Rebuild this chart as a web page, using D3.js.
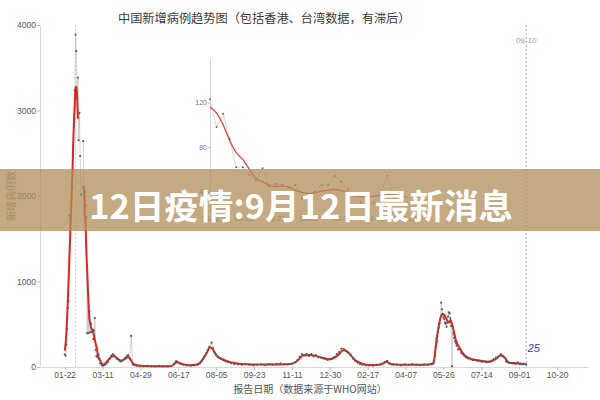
<!DOCTYPE html>
<html><head><meta charset="utf-8">
<script src="https://cdn.jsdelivr.net/npm/d3@7"></script>
<style>body{margin:0;background:#fff}svg{display:block}</style>
</head><body>
<svg id="c" width="600" height="400"></svg>
<script>
// ---------- data ----------
const titleText = "中国新增病例趋势图（包括香港、台湾数据，有滞后）";
const xTitle = "报告日期（数据来源于WHO网站）";
const yTitle = "新增病例数";
const bannerText = "12日疫情:9月12日最新消息";
const xTickDates = ["2020-01-22","2020-03-11","2020-04-29","2020-06-17","2020-08-05","2020-09-23","2020-11-11","2020-12-30","2021-02-17","2021-04-07","2021-05-26","2021-07-14","2021-09-01","2021-10-20"];
const yTicks = [0,1000,2000,3000,4000];
const markDate = "2021-09-10";
const markValue = 25;

const raw2020 = [["2020-01-22",149],["2020-01-23",131],["2020-01-24",259],["2020-01-25",444],["2020-01-26",688],["2020-01-27",769],["2020-01-28",1771],["2020-01-29",1459],["2020-01-30",1737],["2020-01-31",1982],["2020-02-01",2102],["2020-02-02",2590],["2020-02-03",2829],["2020-02-04",3235],["2020-02-05",3887],["2020-02-06",3694],["2020-02-07",3143],["2020-02-08",3385],["2020-02-09",2652],["2020-02-10",2973],["2020-02-11",2467],["2020-02-12",2015],["2020-02-13",null],["2020-02-15",2641],["2020-02-16",2008],["2020-02-17",2048],["2020-02-18",1886],["2020-02-19",1749],["2020-02-20",394],["2020-02-21",889],["2020-02-22",397],["2020-02-23",648],["2020-02-24",409],["2020-02-25",508],["2020-02-26",406],["2020-02-27",433],["2020-02-28",327],["2020-02-29",427],["2020-03-01",573],["2020-03-02",202],["2020-03-03",125],["2020-03-04",119],["2020-03-05",139],["2020-03-06",143],["2020-03-07",99],["2020-03-08",44],["2020-03-09",40],["2020-03-10",19],["2020-03-11",24],["2020-03-12",15],["2020-03-14",25],["2020-03-16",38],["2020-03-18",60],["2020-03-20",95],["2020-03-22",130],["2020-03-24",150],["2020-03-26",135],["2020-03-28",120],["2020-03-30",95],["2020-04-01",80],["2020-04-03",65],["2020-04-05",70],["2020-04-07",85],["2020-04-09",105],["2020-04-11",125],["2020-04-13",140],["2020-04-15",100],["2020-04-17",363],["2020-04-19",30],["2020-04-21",22],["2020-04-24",15],["2020-04-28",10],["2020-05-03",8],["2020-05-08",12],["2020-05-13",10],["2020-05-18",8],["2020-05-23",12],["2020-05-28",6],["2020-06-02",8],["2020-06-07",10],["2020-06-12",45],["2020-06-14",70],["2020-06-16",60],["2020-06-19",40],["2020-06-23",28],["2020-06-28",20],["2020-07-03",15],["2020-07-08",20],["2020-07-12",30],["2020-07-15",45],["2020-07-17",65],["2020-07-19",95],["2020-07-21",125],["2020-07-23",160],["2020-07-25",195],["2020-07-27",235],["2020-07-30",284],["2020-08-01",220],["2020-08-03",165],["2020-08-05",145],["2020-08-07",120],["2020-08-09",105],["2020-08-11",95],["2020-08-14",80],["2020-08-17",65],["2020-08-20",55],["2020-08-24",45],["2020-08-28",35],["2020-09-02",30],["2020-09-07",25],["2020-09-12",32],["2020-09-17",28],["2020-09-22",20],["2020-09-27",26],["2020-10-02",30],["2020-10-07",22],["2020-10-12",35],["2020-10-17",28],["2020-10-22",38],["2020-10-27",42],["2020-11-01",33],["2020-11-06",30],["2020-11-11",40],["2020-11-15",55],["2020-11-18",80],["2020-11-21",118],["2020-11-24",150],["2020-11-27",138],["2020-11-30",155],["2020-12-03",130],["2020-12-06",150],["2020-12-09",125],["2020-12-12",140],["2020-12-15",115],["2020-12-18",108],["2020-12-21",100],["2020-12-24",95],["2020-12-27",82],["2020-12-30",92]];

const raw2021 = [["2021-01-02",100],["2021-01-05",120],["2021-01-08",150],["2021-01-11",175],["2021-01-14",215],["2021-01-17",210],["2021-01-20",190],["2021-01-23",165],["2021-01-26",135],["2021-01-29",100],["2021-02-01",70],["2021-02-04",50],["2021-02-07",35],["2021-02-10",25],["2021-02-14",20],["2021-02-19",18],["2021-02-24",15],["2021-03-01",25],["2021-03-06",30],["2021-03-11",52],["2021-03-14",72],["2021-03-17",40],["2021-03-22",30],["2021-03-27",25],["2021-04-01",20],["2021-04-06",30],["2021-04-11",25],["2021-04-16",35],["2021-04-21",25],["2021-04-26",20],["2021-05-01",30],["2021-05-06",25],["2021-05-11",30],["2021-05-13",40],["2021-05-14",65],["2021-05-15",130],["2021-05-16",230],["2021-05-17",335],["2021-05-18",300],["2021-05-19",420],["2021-05-20",460],["2021-05-21",510],["2021-05-22",560],["2021-05-23",752],["2021-05-24",675],["2021-05-25",610],["2021-05-26",580],["2021-05-27",560],["2021-05-28",520],["2021-05-29",505],["2021-05-30",470],["2021-05-31",520],["2021-06-01",590],["2021-06-02",640],["2021-06-03",627],["2021-06-04",570],["2021-06-05",480],["2021-06-06",10],["2021-06-07",470],["2021-06-08",390],["2021-06-09",340],["2021-06-10",300],["2021-06-11",280],["2021-06-12",250],["2021-06-14",205],["2021-06-16",210],["2021-06-18",165],["2021-06-20",150],["2021-06-22",130],["2021-06-24",112],["2021-06-27",100],["2021-06-30",90],["2021-07-03",80],["2021-07-06",85],["2021-07-09",70],["2021-07-12",76],["2021-07-15",60],["2021-07-18",66],["2021-07-21",55],["2021-07-24",62],["2021-07-27",76],["2021-07-30",92],["2021-08-02",110],["2021-08-05",126],["2021-08-08",150],["2021-08-10",130],["2021-08-11",123],["2021-08-13",110],["2021-08-15",62],["2021-08-18",50],["2021-08-21",47],["2021-08-24",46],["2021-08-27",40],["2021-08-30",54],["2021-09-02",36],["2021-09-05",30],["2021-09-08",35],["2021-09-10",30]];

const smoothA = [["2020-01-22",190],["2020-01-23",260],["2020-01-24",380],["2020-01-25",560],["2020-01-26",789],["2020-01-27",1018],["2020-01-28",1264],["2020-01-29",1501],["2020-01-30",1773],["2020-01-31",2067],["2020-02-01",2276],["2020-02-02",2623],["2020-02-03",2903],["2020-02-04",3069],["2020-02-05",3261],["2020-02-06",3281],["2020-02-07",3172],["2020-02-08",2904]];

const smoothB = [["2020-02-15",2120],["2020-02-16",2066],["2020-02-17",1788],["2020-02-18",1659],["2020-02-19",1339],["2020-02-20",1144],["2020-02-21",910],["2020-02-22",713],["2020-02-23",560],["2020-02-24",510],["2020-02-25",460],["2020-02-26",445],["2020-02-27",430],["2020-02-28",405],["2020-02-29",356],["2020-03-01",315],["2020-03-02",273],["2020-03-03",240],["2020-03-04",195],["2020-03-05",130],["2020-03-06",101],["2020-03-07",86],["2020-03-08",73],["2020-03-09",55],["2020-03-10",40],["2020-03-11",28],["2020-03-13",30],["2020-03-16",60],["2020-03-20",100],["2020-03-25",128],["2020-03-30",100],["2020-04-04",74],["2020-04-09",95],["2020-04-13",120],["2020-04-16",90],["2020-04-19",43],["2020-04-24",20],["2020-05-05",12],["2020-05-25",10],["2020-06-08",12],["2020-06-15",55],["2020-06-22",35],["2020-07-01",20],["2020-07-10",25],["2020-07-15",50],["2020-07-20",110],["2020-07-24",170],["2020-07-28",230],["2020-08-01",200],["2020-08-05",140],["2020-08-10",105],["2020-08-15",85],["2020-08-22",60],["2020-08-30",45],["2020-09-13",32],["2020-10-10",28],["2020-11-05",32],["2020-11-13",42],["2020-11-19",82],["2020-11-25",135],["2020-12-04",140],["2020-12-12",130],["2020-12-20",110],["2020-12-30",90],["2021-01-05",110],["2021-01-10",140],["2021-01-17",200],["2021-01-24",160],["2021-01-31",85],["2021-02-09",43],["2021-02-20",22],["2021-03-06",30],["2021-03-13",60],["2021-03-20",32],["2021-04-10",25],["2021-05-01",25],["2021-05-12",40],["2021-05-14",90],["2021-05-16",238],["2021-05-19",433],["2021-05-22",570],["2021-05-25",627],["2021-05-28",595],["2021-05-31",540],["2021-06-02",520],["2021-06-04",550],["2021-06-07",471],["2021-06-11",316],["2021-06-16",219],["2021-06-22",140],["2021-06-29",101],["2021-07-12",74],["2021-07-25",62],["2021-08-03",101],["2021-08-09",140],["2021-08-14",101],["2021-08-19",50],["2021-09-01",40],["2021-09-09",35]];

// inset (zoom on 08-11 .. 09-10)
const insetDates = ["2021-08-11","2021-08-12","2021-08-13","2021-08-14","2021-08-15","2021-08-16","2021-08-17","2021-08-18","2021-08-19","2021-08-20","2021-08-21","2021-08-22","2021-08-23","2021-08-24","2021-08-25","2021-08-26","2021-08-27","2021-08-28","2021-08-29","2021-08-30","2021-08-31","2021-09-01","2021-09-02","2021-09-03","2021-09-04","2021-09-05","2021-09-06","2021-09-07","2021-09-08","2021-09-09","2021-09-10"];
const insetRaw = [123,98,110,87,62,62,55,50,61,45,47,46,44,46,34,33,40,46,46,54,49,42,36,31,28,30,38,54,35,33,30];
const insetSmooth = [116,110.5,100,86,75,69,60,52,49,46,44.7,45,44,41.5,39.5,38.5,39,40.5,41.5,42,41,39,36.5,35.5,35.5,36,37,37.5,37,36,35];
const insetXTicks = ["2021-08-11","2021-08-16","2021-08-21","2021-08-26","2021-08-31","2021-09-05","2021-09-10"];
const insetYTicks = [40,80,120];

// ---------- drawing ----------
const parse = d3.timeParse("%Y-%m-%d");
const svg = d3.select("#c");
const latin = "'Liberation Sans', Arial, sans-serif";
const cjk = "'Noto Sans CJK SC', sans-serif";

const x = d3.scaleTime().domain([parse("2019-12-21"), parse("2021-11-29")]).range([40, 588]);
const y = d3.scaleLinear().domain([0, 4000]).range([367, 25]);

// title
svg.append("text").attr("x", 118).attr("y", 22.5).attr("fill", "#3a3a3a")
  .style("font-family", cjk).style("font-size", "12.2px").text(titleText);

// axes
const gx = svg.append("g").attr("transform", "translate(0,367)")
  .call(d3.axisBottom(x).tickValues(xTickDates.map(parse)).tickFormat(d3.timeFormat("%m-%d")).tickSize(3).tickSizeOuter(0).tickPadding(2));
gx.select(".domain").attr("stroke", "#d8d8d8");
gx.selectAll(".tick line").attr("stroke", "#bbb");
gx.selectAll(".tick text").attr("fill", "#555").style("font-family", latin).style("font-size", "8.5px");

const gy = svg.append("g").attr("transform", "translate(40,0)")
  .call(d3.axisLeft(y).tickValues(yTicks).tickFormat(d3.format("d")).tickSize(3).tickSizeOuter(0).tickPadding(1));
gy.select(".domain").attr("stroke", "#d8d8d8");
gy.selectAll(".tick line").attr("stroke", "#bbb");
gy.selectAll(".tick text").attr("fill", "#555").style("font-family", latin).style("font-size", "8.5px");

svg.append("text").attr("x", 310).attr("y", 393).attr("text-anchor", "middle").attr("fill", "#555")
  .style("font-family", cjk).style("font-size", "10px").text(xTitle);
svg.append("text").attr("transform", "translate(15,196) rotate(-90)").attr("text-anchor", "middle").attr("fill", "#888")
  .style("font-family", cjk).style("font-size", "10px").text(yTitle);

// peak marker line (date of max raw value)
const allRaw = raw2020.concat(raw2021).map(d => ({date: parse(d[0]), v: d[1]}));
const peak = allRaw.reduce((a, b) => (b.v != null && b.v > a.v ? b : a));
svg.append("line").attr("x1", x(peak.date)).attr("x2", x(peak.date)).attr("y1", 25).attr("y2", 367)
  .attr("stroke", "#c8c8c8").attr("stroke-width", 0.8).attr("stroke-dasharray", "2,2");

// 09-10 marker
const mx = x(parse(markDate));
svg.append("line").attr("x1", mx).attr("x2", mx).attr("y1", 25).attr("y2", 367)
  .attr("stroke", "#8f8fe6").attr("stroke-width", 0.8).attr("stroke-dasharray", "2,2");
svg.append("text").attr("x", mx).attr("y", 42.5).attr("text-anchor", "middle").attr("fill", "#a0a0a0")
  .style("font-family", latin).style("font-size", "8px").style("font-style", "italic").text(d3.timeFormat("%m-%d")(parse(markDate)));
svg.append("text").attr("x", mx + 1.5).attr("y", 351.5).attr("fill", "#2b3fd6")
  .style("font-family", latin).style("font-size", "11px").style("font-style", "italic").text(markValue);

// raw series
const rawLine = d3.line().defined(d => d.v != null).x(d => x(d.date)).y(d => y(d.v));
svg.append("path").datum(allRaw).attr("d", rawLine).attr("fill", "none").attr("stroke", "#b5b5b5").attr("stroke-width", 0.6);

// smooth series
const smLine = d3.line().x(d => x(d.date)).y(d => y(d.v)).curve(d3.curveMonotoneX);
[smoothA, smoothB].forEach(seg => {
  svg.append("path").datum(seg.map(d => ({date: parse(d[0]), v: d[1]})))
    .attr("d", smLine).attr("fill", "none").attr("stroke", "#e5231f").attr("stroke-width", 2).attr("stroke-linejoin", "round");
});
svg.append("g").selectAll("circle").data(allRaw.filter(d => d.v != null)).join("circle")
  .attr("cx", d => x(d.date)).attr("cy", d => y(d.v)).attr("r", 1.1).attr("fill", "#5a5a5a");

// ---------- inset ----------
const xi = d3.scaleTime().domain([parse("2021-08-11"), parse("2021-09-10")]).range([210, 407]);
const yi = d3.scaleLinear().domain([20, 160]).range([214, 58]);
const gyi = svg.append("g").attr("transform", "translate(210,0)")
  .call(d3.axisLeft(yi).tickValues(insetYTicks).tickSize(2).tickSizeOuter(0).tickPadding(1));
gyi.select(".domain").attr("stroke", "#d5d5d5");
gyi.selectAll(".tick line").attr("stroke", "#bbb");
gyi.selectAll(".tick text").attr("fill", "#777").style("font-family", latin).style("font-size", "7px");
const gxi = svg.append("g").attr("transform", "translate(0,214)")
  .call(d3.axisBottom(xi).tickValues(insetXTicks.map(parse)).tickFormat(d3.timeFormat("%m-%d")).tickSize(0).tickPadding(2));
gxi.select(".domain").remove();
gxi.selectAll(".tick text").attr("fill", "#777").style("font-family", latin).style("font-size", "7px");

const inRaw = insetDates.map((d, i) => ({date: parse(d), v: insetRaw[i]}));
const inSm = insetDates.map((d, i) => ({date: parse(d), v: insetSmooth[i]}));
svg.append("path").datum(inRaw).attr("d", d3.line().x(d => xi(d.date)).y(d => yi(d.v)))
  .attr("fill", "none").attr("stroke", "#bdbdbd").attr("stroke-width", 0.6);
svg.append("path").datum(inSm).attr("d", d3.line().x(d => xi(d.date)).y(d => yi(d.v)).curve(d3.curveMonotoneX))
  .attr("fill", "none").attr("stroke", "#e04545").attr("stroke-width", 1.3);
svg.append("g").selectAll("circle").data(inRaw).join("circle")
  .attr("cx", d => xi(d.date)).attr("cy", d => yi(d.v)).attr("r", 1).attr("fill", "#666");

// ---------- banner ----------
svg.append("rect").attr("x", 0).attr("y", 169).attr("width", 600).attr("height", 62)
  .attr("fill", "rgb(176,142,88)").attr("fill-opacity", 0.75);
svg.append("text").attr("x", 301).attr("y", 219).attr("text-anchor", "middle").attr("fill", "#fff")
  .attr("textLength", 424).attr("lengthAdjust", "spacingAndGlyphs")
  .style("font-family", cjk).style("font-weight", "700").style("font-size", "34px").text(bannerText);
</script>
</body></html>
